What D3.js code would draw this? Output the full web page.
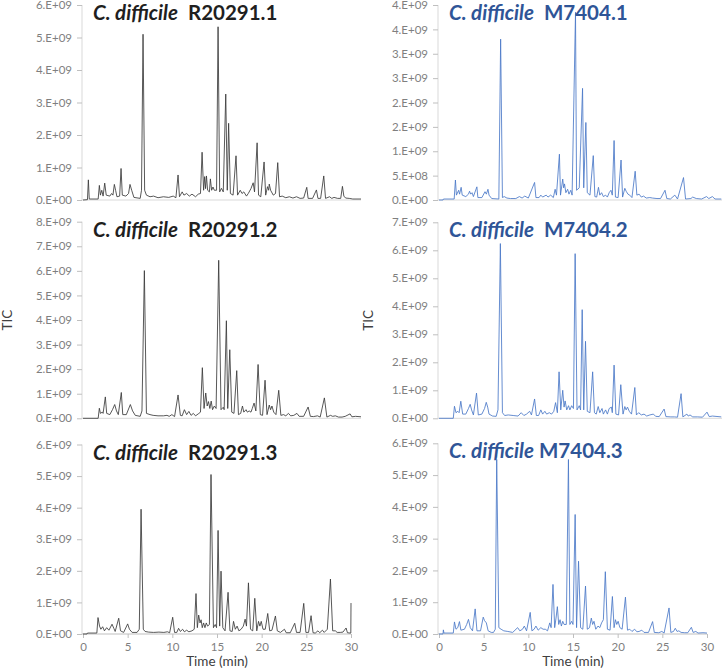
<!DOCTYPE html>
<html>
<head>
<meta charset="utf-8">
<script src="https://cdn.jsdelivr.net/npm/d3@7"></script>
<style>
  body { margin: 0; background: #fff; }
  text { font-family: Lato, "Open Sans", sans-serif; }
</style>
</head>
<body>
<svg id="fig" width="722" height="670"></svg>
<script>
// TIC traces, [time (min), TIC in units of 1e9], vertices
const r20291_1 = [[0,0],[0.5,0.01],[0.6,0.62],[0.7,0.03],[1.7,0.03],[1.83,0.45],[1.95,0.15],[2.1,0.3],[2.25,0.12],[2.43,0.52],[2.6,0.15],[3.0,0.12],[3.2,0.2],[3.35,0.15],[3.51,0.48],[3.65,0.3],[3.8,0.1],[4.1,0.12],[4.26,0.97],[4.4,0.15],[4.8,0.12],[5.1,0.2],[5.26,0.48],[5.45,0.3],[5.7,0.08],[6.4,0.05],[6.55,0.3],[6.72,5.1],[6.9,0.3],[7.1,0.15],[7.5,0.1],[7.9,0.12],[8.4,0.07],[9.0,0.1],[9.6,0.08],[10.1,0.12],[10.4,0.07],[10.64,0.77],[10.8,0.1],[11.1,0.25],[11.3,0.15],[11.6,0.2],[11.9,0.12],[12.2,0.18],[12.6,0.1],[12.9,0.18],[13.15,0.2],[13.33,1.47],[13.5,0.3],[13.62,0.72],[13.72,0.35],[13.82,0.74],[13.95,0.3],[14.15,0.25],[14.26,0.65],[14.4,0.3],[14.55,0.4],[14.7,0.3],[14.95,0.3],[15.12,5.33],[15.3,0.25],[15.5,0.36],[15.7,0.25],[15.98,3.26],[16.15,0.3],[16.3,2.36],[16.5,0.2],[16.8,0.15],[17.13,1.36],[17.3,0.15],[17.6,0.3],[17.8,0.2],[18.0,0.25],[18.3,0.12],[18.5,0.2],[18.8,0.35],[19.05,0.53],[19.2,0.25],[19.49,1.76],[19.65,0.15],[19.9,0.1],[20.27,1.17],[20.45,0.15],[20.65,0.41],[20.78,0.3],[20.85,0.49],[21.0,0.3],[21.3,0.15],[21.55,0.2],[21.8,1.15],[22.0,0.1],[22.3,0.12],[22.7,0.07],[23.1,0.1],[23.5,0.06],[23.9,0.1],[24.3,0.05],[24.7,0.06],[25.05,0.39],[25.2,0.05],[25.7,0.05],[26.13,0.31],[26.3,0.05],[26.6,0.05],[26.95,0.74],[27.15,0.05],[27.6,0.1],[27.85,0.05],[28.1,0.08],[28.5,0.05],[28.85,0.05],[29.04,0.42],[29.2,0.12],[29.4,0.06],[29.8,0.05],[30.2,0.03],[31.5,0.03]];

const m7404_1 = [[0,0],[0.45,0.0],[0.5,0.02],[1.7,0.02],[1.84,0.41],[1.95,0.1],[2.2,0.2],[2.3,0.12],[2.48,0.26],[2.6,0.1],[3.0,0.07],[3.3,0.12],[3.42,0.18],[3.55,0.12],[3.7,0.15],[3.85,0.07],[4.24,0.27],[4.35,0.05],[4.8,0.05],[5.15,0.17],[5.3,0.12],[5.48,0.22],[5.6,0.1],[5.9,0.03],[6.7,0.02],[6.9,3.3],[7.1,0.05],[7.3,0.07],[7.6,0.04],[8.0,0.03],[8.6,0.03],[9.0,0.07],[9.3,0.04],[9.6,0.08],[10.0,0.04],[10.7,0.36],[10.85,0.05],[11.2,0.05],[11.4,0.1],[11.6,0.06],[12.0,0.1],[12.2,0.06],[12.5,0.1],[12.8,0.05],[13.0,0.22],[13.15,0.1],[13.48,0.94],[13.6,0.1],[13.85,0.43],[13.95,0.25],[14.05,0.33],[14.2,0.15],[14.4,0.22],[14.55,0.12],[14.75,0.2],[14.9,0.1],[15.28,3.85],[15.4,0.2],[15.7,0.25],[16.07,2.29],[16.2,0.25],[16.44,1.59],[16.6,0.15],[16.9,0.1],[17.27,0.91],[17.45,0.07],[17.65,0.06],[17.85,0.26],[18.0,0.1],[18.2,0.15],[18.4,0.07],[18.65,0.1],[18.85,0.06],[19.05,0.15],[19.25,0.2],[19.4,0.1],[19.6,1.22],[19.75,0.06],[20.05,0.05],[20.38,0.82],[20.55,0.06],[20.8,0.24],[20.95,0.18],[21.15,0.12],[21.35,0.1],[21.6,0.05],[21.96,0.59],[22.15,0.1],[22.4,0.12],[22.65,0.06],[22.9,0.08],[23.2,0.04],[23.6,0.05],[23.9,0.04],[24.4,0.03],[24.8,0.03],[25.3,0.2],[25.5,0.03],[25.9,0.02],[26.4,0.1],[26.7,0.02],[27.37,0.46],[27.6,0.02],[28.2,0.03],[28.4,0.06],[28.8,0.03],[29.4,0.02],[29.95,0.07],[30.2,0.03],[30.6,0.07],[30.9,0.02],[31.6,0.02]];

const r20291_2 = [[0,0],[1.7,0.0],[1.83,0.41],[1.95,0.2],[2.15,0.25],[2.25,0.2],[2.5,0.87],[2.65,0.2],[3.0,0.15],[3.3,0.35],[3.55,0.56],[3.75,0.3],[3.95,0.15],[4.29,1.05],[4.45,0.15],[4.85,0.15],[5.3,0.56],[5.55,0.3],[5.85,0.12],[6.4,0.08],[6.6,0.3],[6.87,6.01],[7.1,0.2],[7.5,0.15],[7.85,0.12],[8.4,0.1],[9.0,0.1],[9.4,0.12],[9.65,0.08],[9.95,0.15],[10.25,0.07],[10.64,0.95],[10.9,0.12],[11.1,0.1],[11.35,0.35],[11.6,0.15],[11.85,0.28],[12.1,0.12],[12.35,0.2],[12.6,0.1],[12.9,0.18],[13.15,0.25],[13.36,2.06],[13.55,0.4],[13.74,1.03],[13.9,0.5],[14.05,0.68],[14.2,0.4],[14.35,0.7],[14.5,0.35],[14.7,0.5],[14.9,0.4],[15.19,6.43],[15.45,0.35],[15.7,0.45],[15.8,0.35],[16.05,3.97],[16.2,0.4],[16.43,2.79],[16.65,0.25],[16.9,0.2],[17.21,1.94],[17.4,0.15],[17.65,0.2],[17.85,0.5],[18.0,0.25],[18.25,0.35],[18.4,0.25],[18.6,0.3],[18.8,0.25],[18.95,0.4],[19.15,0.62],[19.35,0.3],[19.6,2.19],[19.85,0.15],[20.1,0.12],[20.38,1.55],[20.6,0.15],[20.85,0.54],[21.0,0.35],[21.15,0.5],[21.35,0.25],[21.6,0.15],[21.91,1.14],[22.15,0.12],[22.45,0.15],[22.7,0.1],[23.0,0.2],[23.25,0.1],[23.6,0.12],[23.95,0.2],[24.2,0.08],[24.7,0.08],[25.2,0.46],[25.45,0.08],[25.8,0.07],[26.25,0.1],[26.55,0.05],[27.02,0.83],[27.3,0.05],[27.7,0.12],[27.95,0.08],[28.25,0.1],[28.6,0.05],[29.0,0.05],[29.35,0.08],[29.9,0.18],[30.1,0.06],[30.5,0.08],[31.5,0.05]];

const m7404_2 = [[0,0],[1.6,0.0],[1.73,0.43],[1.9,0.2],[2.1,0.25],[2.25,0.2],[2.44,0.61],[2.65,0.15],[3.0,0.15],[3.3,0.35],[3.49,0.5],[3.65,0.3],[3.85,0.12],[4.2,0.9],[4.4,0.12],[4.8,0.15],[5.1,0.35],[5.29,0.57],[5.45,0.4],[5.6,0.15],[6.0,0.08],[6.4,0.07],[6.6,0.3],[6.87,6.24],[7.1,0.2],[7.35,0.1],[7.75,0.12],[8.3,0.1],[8.85,0.08],[9.2,0.2],[9.5,0.1],[9.8,0.15],[10.15,0.25],[10.35,0.12],[10.7,0.69],[10.9,0.1],[11.15,0.1],[11.4,0.3],[11.6,0.15],[11.85,0.25],[12.05,0.15],[12.35,0.2],[12.6,0.15],[12.85,0.25],[13.05,0.56],[13.25,0.2],[13.44,1.66],[13.63,0.3],[13.85,1.0],[14.0,0.4],[14.12,0.62],[14.3,0.3],[14.5,0.45],[14.65,0.3],[14.85,0.45],[15.05,0.35],[15.24,5.88],[15.45,0.3],[15.7,0.45],[15.85,0.3],[16.03,3.88],[16.2,0.3],[16.4,2.75],[16.6,0.25],[16.9,0.2],[17.2,1.66],[17.4,0.2],[17.6,0.15],[17.82,0.42],[18.0,0.2],[18.25,0.35],[18.4,0.15],[18.65,0.3],[18.85,0.15],[19.05,0.35],[19.3,0.4],[19.4,0.2],[19.6,1.9],[19.8,0.15],[20.1,0.12],[20.35,1.2],[20.6,0.15],[20.8,0.42],[20.95,0.3],[21.1,0.4],[21.3,0.25],[21.55,0.15],[21.92,1.1],[22.1,0.12],[22.35,0.2],[22.65,0.12],[22.95,0.15],[23.25,0.08],[23.6,0.12],[24.0,0.15],[24.25,0.07],[24.65,0.06],[25.2,0.33],[25.4,0.06],[25.95,0.05],[26.35,0.05],[26.7,0.04],[27.1,0.88],[27.3,0.05],[27.75,0.15],[27.9,0.08],[28.1,0.12],[28.4,0.05],[28.95,0.05],[29.5,0.04],[30.0,0.22],[30.25,0.06],[30.6,0.08],[31.6,0.05]];

const r20291_3 = [[0,0],[0.45,0.0],[0.5,0.03],[1.55,0.03],[1.68,0.52],[1.85,0.25],[2.0,0.15],[2.2,0.23],[2.4,0.1],[2.65,0.2],[2.9,0.12],[3.25,0.31],[3.45,0.18],[3.6,0.08],[4.0,0.5],[4.2,0.1],[4.55,0.05],[5.0,0.32],[5.2,0.15],[5.5,0.05],[6.05,0.05],[6.3,0.15],[6.5,3.95],[6.75,0.15],[6.95,0.08],[7.35,0.06],[7.9,0.05],[8.5,0.06],[9.05,0.05],[9.45,0.07],[9.7,0.04],[10.04,0.53],[10.25,0.05],[10.5,0.05],[10.7,0.18],[10.9,0.08],[11.15,0.15],[11.35,0.07],[11.6,0.12],[11.85,0.07],[12.2,0.1],[12.45,0.15],[12.65,1.28],[12.8,0.2],[12.95,0.6],[13.1,0.35],[13.22,0.45],[13.35,0.2],[13.5,0.35],[13.65,0.2],[13.8,0.35],[13.95,0.25],[14.15,0.3],[14.33,5.05],[14.6,0.2],[14.8,0.3],[14.95,0.2],[15.12,3.28],[15.3,0.25],[15.45,1.99],[15.65,0.2],[15.9,0.1],[16.24,1.32],[16.45,0.1],[16.7,0.08],[16.85,0.4],[17.05,0.15],[17.25,0.25],[17.45,0.1],[17.7,0.15],[17.95,0.25],[18.15,0.47],[18.3,0.25],[18.52,1.62],[18.75,0.15],[19.0,0.1],[19.23,1.13],[19.45,0.1],[19.65,0.4],[19.8,0.25],[19.95,0.4],[20.15,0.15],[20.4,0.15],[20.68,0.65],[20.9,0.1],[21.15,0.12],[21.54,0.57],[21.75,0.1],[22.1,0.05],[22.55,0.15],[22.75,0.04],[23.2,0.04],[23.7,0.34],[23.9,0.05],[24.3,0.05],[24.71,0.97],[24.95,0.05],[25.25,0.05],[25.53,0.58],[25.75,0.04],[26.0,0.03],[26.3,0.1],[26.5,0.04],[26.8,0.12],[27.0,0.05],[27.35,0.15],[27.7,1.74],[27.95,0.1],[28.25,0.1],[28.45,0.05],[28.8,0.05],[29.1,0.06],[29.45,0.19],[29.6,0.04],[29.9,0.03],[29.98,0.03],[30.0,0.98]];

const m7404_3 = [[0,0],[0.45,0.0],[0.49,0.13],[0.55,0.03],[1.6,0.03],[1.73,0.38],[1.9,0.15],[2.1,0.2],[2.29,0.39],[2.45,0.12],[2.85,0.15],[3.1,0.3],[3.3,0.46],[3.5,0.2],[3.75,0.1],[4.05,0.79],[4.25,0.1],[4.65,0.1],[4.95,0.53],[5.1,0.42],[5.3,0.35],[5.5,0.1],[5.85,0.05],[6.1,0.05],[6.3,0.15],[6.46,5.49],[6.7,0.2],[6.95,0.15],[7.25,0.1],[7.7,0.08],[8.25,0.05],[8.8,0.2],[9.05,0.1],[9.35,0.15],[9.55,0.25],[9.8,0.1],[10.21,0.68],[10.4,0.1],[10.65,0.15],[10.85,0.25],[11.1,0.12],[11.4,0.2],[11.65,0.15],[11.9,0.15],[12.15,0.1],[12.4,0.35],[12.55,0.2],[12.76,1.56],[12.95,0.2],[13.1,0.5],[13.25,0.86],[13.4,0.3],[13.55,0.45],[13.7,0.25],[13.85,0.4],[14.0,0.3],[14.25,0.3],[14.49,5.49],[14.65,0.3],[14.85,0.4],[15.0,0.3],[15.24,3.76],[15.4,0.2],[15.62,2.29],[15.85,0.2],[16.1,0.15],[16.4,1.51],[16.6,0.15],[16.85,0.2],[17.05,0.5],[17.2,0.3],[17.35,0.4],[17.55,0.15],[17.8,0.25],[18.0,0.2],[18.2,0.35],[18.4,0.45],[18.62,1.96],[18.85,0.15],[19.15,0.12],[19.41,1.18],[19.6,0.2],[19.75,0.45],[19.9,0.3],[20.05,0.4],[20.25,0.2],[20.5,0.15],[20.87,1.16],[21.1,0.12],[21.35,0.15],[21.6,0.08],[21.9,0.15],[22.15,0.07],[22.4,0.08],[22.7,0.12],[22.95,0.05],[23.45,0.05],[23.91,0.39],[24.1,0.05],[24.6,0.04],[24.95,0.08],[25.2,0.03],[25.75,0.82],[25.95,0.05],[26.25,0.08],[26.45,0.18],[26.65,0.08],[26.85,0.1],[27.1,0.05],[27.5,0.04],[27.85,0.04],[28.25,0.21],[28.45,0.05],[28.75,0.08],[29.0,0.03],[29.55,0.04],[30.0,0.03]];

// axis ticks (TIC in 1e9) and their Excel-style labels
const ticks0to6 = [0, 1, 2, 3, 4, 5, 6];
const labels0to6 = ["0.E+00", "1.E+09", "2.E+09", "3.E+09", "4.E+09", "5.E+09", "6.E+09"];
const ticks0to4 = [0, 0.5, 1, 1.5, 2, 2.5, 3, 3.5, 4];
const labels0to4 = ["0.E+00", "5.E+08", "1.E+09", "2.E+09", "2.E+09", "3.E+09", "3.E+09", "4.E+09", "4.E+09"];
const ticks0to8 = [0, 1, 2, 3, 4, 5, 6, 7, 8];
const labels0to8 = ["0.E+00", "1.E+09", "2.E+09", "3.E+09", "4.E+09", "5.E+09", "6.E+09", "7.E+09", "8.E+09"];
const ticks0to7 = [0, 1, 2, 3, 4, 5, 6, 7];
const labels0to7 = ["0.E+00", "1.E+09", "2.E+09", "3.E+09", "4.E+09", "5.E+09", "6.E+09", "7.E+09"];
const timeTicks = [0, 5, 10, 15, 20, 25, 30];

const species = "C. difficile";
const strains = ["R20291.1", "M7404.1", "R20291.2", "M7404.2", "R20291.3", "M7404.3"];

const dark = "#1f1f1f", blue = "#2f5597";
const panels = [
  {strain: strains[0], data: r20291_1, ticks: ticks0to6, labels: labels0to6, ax: 83, right: 361, top: 5, base: 200, line: "#3a3a3a", tc: dark, gap: "\u00a0\u00a0"},
  {strain: strains[1], data: m7404_1, ticks: ticks0to4, labels: labels0to4, ax: 439, right: 722, top: 5, base: 200, line: "#4a78c8", tc: blue, gap: "\u00a0\u00a0"},
  {strain: strains[2], data: r20291_2, ticks: ticks0to8, labels: labels0to8, ax: 83, right: 361, top: 221.7, base: 418.3, line: "#3a3a3a", tc: dark, gap: "\u00a0\u00a0", ticX: 12},
  {strain: strains[3], data: m7404_2, ticks: ticks0to7, labels: labels0to7, ax: 439, right: 722, top: 222.3, base: 418.3, line: "#4a78c8", tc: blue, gap: "\u00a0\u00a0", ticX: 373},
  {strain: strains[4], data: r20291_3, ticks: ticks0to6, labels: labels0to6, ax: 83, right: 361, top: 444.5, base: 634, line: "#3a3a3a", tc: dark, gap: "\u00a0\u00a0", time: true},
  {strain: strains[5], data: m7404_3, ticks: ticks0to6, labels: labels0to6, ax: 439, right: 722, top: 443.3, base: 634, line: "#4a78c8", tc: blue, gap: "\u00a0", time: true}
];

const svg = d3.select("#fig");

panels.forEach((p, i) => {
  const g = svg.append("g");
  const x = d3.scaleLinear().domain([0, 30]).range([p.ax, p.ax + 268]);
  const y = d3.scaleLinear().domain([0, d3.max(p.ticks)]).range([p.base, p.top]);

  // y axis
  const yAxis = d3.axisLeft(y).tickValues(p.ticks).tickSize(5).tickPadding(5)
    .tickFormat((d, k) => p.labels[k]);
  const ya = g.append("g").attr("transform", `translate(${p.ax - 1},0)`).call(yAxis);
  ya.select(".domain").attr("stroke", "#d9d9d9").attr("d", `M0,${p.top}V${p.base}`);
  ya.selectAll(".tick line").attr("stroke", "#bfbfbf");
  ya.selectAll(".tick text").attr("fill", "#7f7f7f").style("font-size", "11.5px");

  // x axis line
  if (p.time) {
    const xAxis = d3.axisBottom(x).tickValues(timeTicks).tickSize(4).tickPadding(5);
    const xa = g.append("g").attr("transform", `translate(0,${p.base})`).call(xAxis);
    xa.select(".domain").attr("stroke", "#bfbfbf").attr("d", `M${p.ax - 1},0H${x(30)}`);
    xa.selectAll(".tick line").attr("stroke", "#bfbfbf");
    xa.selectAll(".tick text").attr("fill", "#7f7f7f").style("font-size", "11.5px");
    g.append("text").attr("x", x(15)).attr("y", p.base + 32)
      .attr("text-anchor", "middle").attr("fill", "#404040")
      .style("font-size", "13.5px").text("Time (min)");
  } else {
    g.append("line").attr("x1", p.ax - 1).attr("x2", p.right).attr("y1", p.base).attr("y2", p.base)
      .attr("stroke", "#d9d9d9");
  }

  if (p.ticX) {
    g.append("text").attr("transform", `translate(${p.ticX},${(p.top + p.base) / 2}) rotate(-90)`)
      .attr("text-anchor", "middle").attr("fill", "#404040")
      .style("font-size", "13.5px").text("TIC");
  }

  // trace
  const clipId = "clip" + i;
  g.append("clipPath").attr("id", clipId).append("rect")
    .attr("x", p.ax).attr("y", p.top - 10).attr("width", p.right - p.ax).attr("height", p.base - p.top + 12);
  const line = d3.line().x(d => x(d[0])).y(d => y(d[1]));
  g.append("path").datum(p.data)
    .attr("clip-path", `url(#${clipId})`)
    .attr("fill", "none").attr("stroke", p.line)
    .attr("stroke-width", 0.85).attr("stroke-linejoin", "round")
    .attr("d", line);

  // title
  const t = g.append("text").attr("x", p.ax + 10).attr("y", p.top + 15)
    .attr("fill", p.tc).style("font-size", "20.5px").style("font-weight", "bold");
  t.append("tspan").style("font-style", "italic").text(species);
  t.append("tspan").text(p.gap + p.strain);
});
</script>
</body>
</html>
